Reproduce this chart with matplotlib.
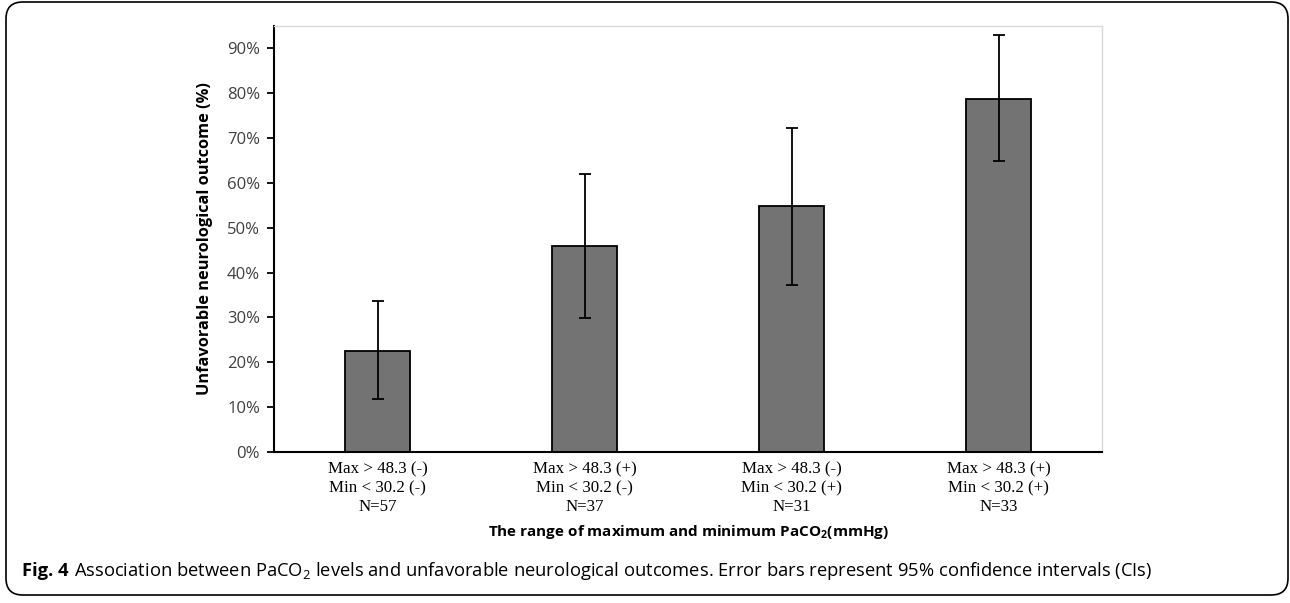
import numpy as np
import matplotlib
matplotlib.use('Agg')
import matplotlib.pyplot as plt
from matplotlib.patches import FancyBboxPatch

categories = ['Max > 48.3 (-)\nMin < 30.2 (-)\nN=57',
              'Max > 48.3 (+)\nMin < 30.2 (-)\nN=37',
              'Max > 48.3 (-)\nMin < 30.2 (+)\nN=31',
              'Max > 48.3 (+)\nMin < 30.2 (+)\nN=33']
rates = [22.6, 46.0, 54.8, 78.8]
ci_low = [11.8, 29.8, 37.3, 64.8]
ci_high = [33.6, 62.1, 72.3, 92.9]
yticks = [0, 10, 20, 30, 40, 50, 60, 70, 80, 90]

plt.rcParams['mathtext.fontset'] = 'custom'
plt.rcParams['mathtext.rm'] = 'Open Sans'
plt.rcParams['mathtext.bf'] = 'Open Sans:bold'

W, H = 1290, 603
fig = plt.figure(figsize=(W / 100, H / 100), dpi=100)
ax = fig.add_axes([274 / W, 1 - 452 / H, (1102 - 274) / W, (452 - 26) / H])

x = np.arange(len(categories))
r = np.array(rates)
yerr = [r - np.array(ci_low), np.array(ci_high) - r]
ax.bar(x, r, width=0.315, color='#737373', edgecolor='black', linewidth=1.3, zorder=2)
ax.errorbar(x, r, yerr=yerr, fmt='none', ecolor='black', elinewidth=1.3,
            capsize=4, capthick=1.3, zorder=3)

ax.set_xlim(-0.5, 3.5)
ax.set_ylim(0, 95)
ax.set_yticks(yticks)
ax.set_yticklabels(['%d%%' % v for v in yticks], fontsize=12, color='#404040',
                   family='Open Sans')
ax.set_xticks(x)
ax.set_xticklabels(categories, fontsize=12.2, family='Liberation Serif', linespacing=1.2)
ax.tick_params(axis='x', length=0, pad=7)
ax.tick_params(axis='y', length=5, width=1.3, direction='out', pad=5)

for s in ['left', 'bottom']:
    ax.spines[s].set_linewidth(1.5)
    ax.spines[s].set_color('black')
for s in ['top', 'right']:
    ax.spines[s].set_linewidth(1.0)
    ax.spines[s].set_color('#d9d9d9')

ax.set_ylabel('Unfavorable neurological outcome (%)', fontsize=11.8, fontweight='bold',
              family='Open Sans', labelpad=10)
fig.text(688 / W, 1 - 532 / H, 'The range of maximum and minimum PaCO$_\\mathbf{2}$(mmHg)',
         ha='center', va='center', fontsize=11, fontweight='bold', family='Open Sans')

# caption
renderer = fig.canvas.get_renderer()
t1 = fig.text(22 / W, 1 - 571 / H, 'Fig. 4', ha='left', va='center', fontsize=13.2,
              fontweight='bold', family='Open Sans')
bb = t1.get_window_extent(renderer)
fig.text((bb.x1 + 5) / W, 1 - 571 / H,
         'Association between PaCO$_2$ levels and unfavorable neurological outcomes. '
         'Error bars represent 95% confidence intervals (CIs)',
         ha='left', va='center', fontsize=13.2, family='Open Sans')

frame = FancyBboxPatch((6 / W, 8 / H), (1288 - 6) / W, (601 - 8) / H,
                       boxstyle='round,pad=0,rounding_size=0.013',
                       transform=fig.transFigure, fill=False, edgecolor='black',
                       linewidth=1.2, mutation_aspect=W / H)
fig.patches.append(frame)

fig.savefig('out.png', dpi=100)
